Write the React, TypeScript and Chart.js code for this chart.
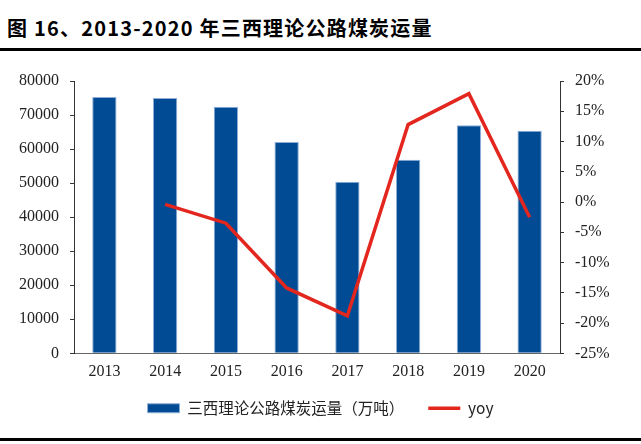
import React, { useEffect, useRef } from "react";
import { Chart, registerables } from "chart.js";

Chart.register(...registerables);

const titleText = "图 16、2013-2020 年三西理论公路煤炭运量";
const years = ["2013", "2014", "2015", "2016", "2017", "2018", "2019", "2020"];
const volume = [75300, 75000, 72400, 62100, 50400, 56850, 67000, 65350];
const yoy = [null, -0.4, -3.5, -14.2, -18.8, 12.8, 17.9, -2.5];
const volumeLabel = "三西理论公路煤炭运量（万吨）";
const yoyLabel = "yoy";

const legendShift = {
  id: "legendShift",
  afterLayout(chart: any) {
    const lg = chart.legend;
    if (!lg) return;
    const h = lg.bottom - lg.top;
    lg.top -= 14;
    lg.bottom = lg.top + h;
  },
};

export default function App() {
  const ref = useRef<HTMLCanvasElement | null>(null);

  useEffect(() => {
    if (!ref.current) return;
    const serif = "'Liberation Serif', 'Times New Roman', serif";
    const chart = new Chart(ref.current, {
      type: "bar",
      data: {
        labels: years,
        datasets: [
          {
            type: "bar",
            label: volumeLabel,
            data: volume,
            backgroundColor: "#004B93",
            borderColor: "#8FAFD8",
            borderWidth: 1,
            barPercentage: 0.4,
            categoryPercentage: 1,
            yAxisID: "y",
            order: 2,
            pointStyle: "rect",
          } as any,
          {
            type: "line",
            label: yoyLabel,
            data: yoy,
            borderColor: "#E3261E",
            backgroundColor: "#E3261E",
            borderWidth: 3.5,
            pointRadius: 0,
            pointStyle: "line",
            tension: 0,
            yAxisID: "y1",
            order: 1,
          } as any,
        ],
      },
      plugins: [legendShift],
      options: {
        animation: false,
        responsive: false,
        devicePixelRatio: 1,
        layout: { padding: { top: 29, left: 0, right: 0, bottom: 0 } },
        plugins: {
          tooltip: { enabled: false },
          legend: {
            position: "bottom",
            labels: {
              usePointStyle: true,
              pointStyleWidth: 32,
              boxHeight: 9,
              padding: 24,
              color: "#222",
              font: { family: "'Noto Sans CJK SC', sans-serif", size: 15.5 },
              sort: (a: any, b: any) => a.datasetIndex - b.datasetIndex,
            },
          },
        },
        scales: {
          x: {
            offset: true,
            grid: { display: false, drawTicks: false },
            border: { display: true, color: "#666", width: 1 },
            ticks: { padding: 9, color: "#222", font: { family: serif, size: 16 } },
          },
          y: {
            position: "left",
            min: 0,
            max: 80000,
            grid: { drawOnChartArea: false, drawTicks: true, tickLength: 4, color: "#333" },
            border: { display: true, color: "#333", width: 1 },
            ticks: {
              stepSize: 10000,
              padding: 11,
              color: "#222",
              font: { family: serif, size: 16 },
              callback: (v: any) => String(v),
            },
            afterFit: (s: any) => {
              s.width = 74;
            },
          },
          y1: {
            position: "right",
            min: -25,
            max: 20,
            grid: { drawOnChartArea: false, drawTicks: true, tickLength: 4, color: "#333" },
            border: { display: true, color: "#333", width: 1 },
            ticks: {
              stepSize: 5,
              padding: 11,
              color: "#222",
              font: { family: serif, size: 16 },
              callback: (v: any) => `${v}%`,
            },
            afterFit: (s: any) => {
              s.width = 81;
            },
          },
        },
      } as any,
    });
    return () => chart.destroy();
  }, []);

  return (
    <div style={{ position: "absolute", left: 0, top: 0, width: 641, height: 444, background: "#fff", overflow: "hidden" }}>
      <div
        style={{
          position: "absolute",
          left: 7,
          top: 18,
          fontFamily: "'Noto Sans CJK SC', sans-serif",
          fontWeight: 700,
          fontSize: 20,
          lineHeight: "20px",
          letterSpacing: "1.2px",
          color: "#000",
          whiteSpace: "nowrap",
        }}
      >
        {titleText}
      </div>
      <div style={{ position: "absolute", left: 0, top: 48, width: 641, height: 3, background: "#000" }} />
      <canvas ref={ref} width={641} height={388} style={{ position: "absolute", left: 0, top: 52, width: 641, height: 388 }} />
      <div style={{ position: "absolute", left: 0, top: 438, width: 641, height: 3, background: "#000" }} />
    </div>
  );
}
